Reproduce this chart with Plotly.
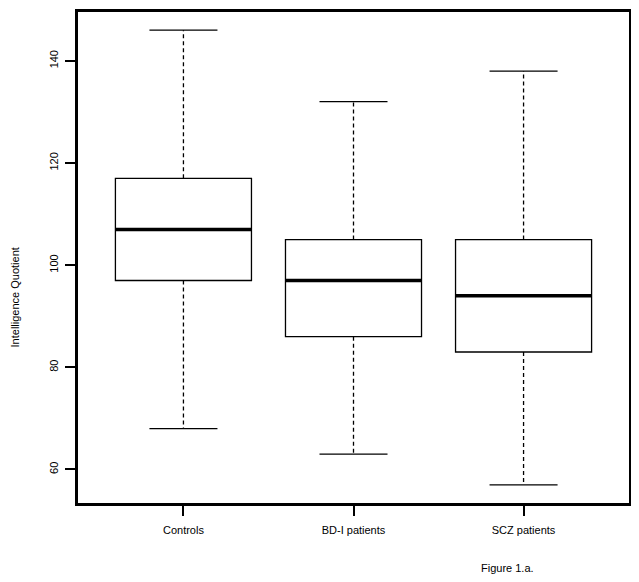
import plotly.graph_objects as go

groups = ["Controls", "BD-I patients", "SCZ patients"]
positions = [1, 2, 3]
lower_whisker = [68, 63, 57]
q1 = [97, 86, 83]
median = [107, 97, 94]
q3 = [117, 105, 105]
upper_whisker = [146, 132, 138]

BOX_W = 0.8
CAP_W = 0.4
FONT = "Liberation Sans, Arial, sans-serif"


def _segments(pairs):
    """Flatten a list of ((x0, y0), (x1, y1)) into scatter arrays with gaps."""
    xs, ys = [], []
    for (x0, y0), (x1, y1) in pairs:
        xs += [x0, x1, None]
        ys += [y0, y1, None]
    return xs, ys


fig = go.Figure()

# dashed whiskers
wx, wy = _segments(
    [((p, hi), (p, top)) for p, hi, top in zip(positions, q3, upper_whisker)]
    + [((p, lo), (p, bot)) for p, lo, bot in zip(positions, q1, lower_whisker)]
)
fig.add_trace(
    go.Scatter(
        x=wx, y=wy, mode="lines",
        line=dict(color="black", width=1.3, dash="4px,3px"),
        hoverinfo="skip",
    )
)

# staples
cx, cy = _segments(
    [((p - CAP_W / 2, v), (p + CAP_W / 2, v)) for p, v in zip(positions, upper_whisker)]
    + [((p - CAP_W / 2, v), (p + CAP_W / 2, v)) for p, v in zip(positions, lower_whisker)]
)
fig.add_trace(
    go.Scatter(
        x=cx, y=cy, mode="lines",
        line=dict(color="black", width=1.3),
        hoverinfo="skip",
    )
)

# boxes
fig.add_trace(
    go.Box(
        x=positions,
        q1=q1,
        median=median,
        q3=q3,
        lowerfence=q1,
        upperfence=q3,
        width=BOX_W,
        whiskerwidth=0,
        fillcolor="white",
        line=dict(color="black", width=1.3),
        boxpoints=False,
    )
)

# thick medians
mx, my = _segments(
    [((p - BOX_W / 2, m), (p + BOX_W / 2, m)) for p, m in zip(positions, median)]
)
fig.add_trace(
    go.Scatter(
        x=mx, y=my, mode="lines",
        line=dict(color="black", width=3.5),
        hoverinfo="skip",
    )
)

# page body has an 8px margin, so the figure is shrunk to fit the window
fig.update_layout(
    width=631,
    height=574,
    margin=dict(l=70, r=10, t=1, b=79),
    paper_bgcolor="white",
    plot_bgcolor="white",
    showlegend=False,
    font=dict(family=FONT, size=11, color="black"),
    annotations=[
        dict(
            text="Intelligence Quotient", xref="paper", yref="paper",
            x=-0.114, y=0.419, xanchor="center", yanchor="middle",
            textangle=-90, showarrow=False, font=dict(size=11),
        ),
        dict(
            text="Figure 1.a.", xref="paper", yref="paper",
            x=0.779, y=-0.1316, xanchor="center", yanchor="middle",
            showarrow=False, font=dict(size=11),
        ),
    ],
)

fig.update_xaxes(
    range=[0.38, 3.62],
    tickvals=positions,
    ticktext=groups,
    showgrid=False,
    zeroline=False,
    showline=True,
    mirror=True,
    linecolor="black",
    linewidth=2.5,
    ticks="outside",
    ticklen=10,
    tickwidth=1.5,
    tickcolor="black",
    ticklabelstandoff=5,
)

fig.update_yaxes(
    range=[53.44, 149.56],
    tickvals=[60, 80, 100, 120, 140],
    tickangle=-90,
    showgrid=False,
    zeroline=False,
    showline=True,
    mirror=True,
    linecolor="black",
    linewidth=2.5,
    ticks="outside",
    ticklen=10,
    tickwidth=1.5,
    tickcolor="black",
    ticklabelstandoff=3,
)

fig.write_html("out.html")
